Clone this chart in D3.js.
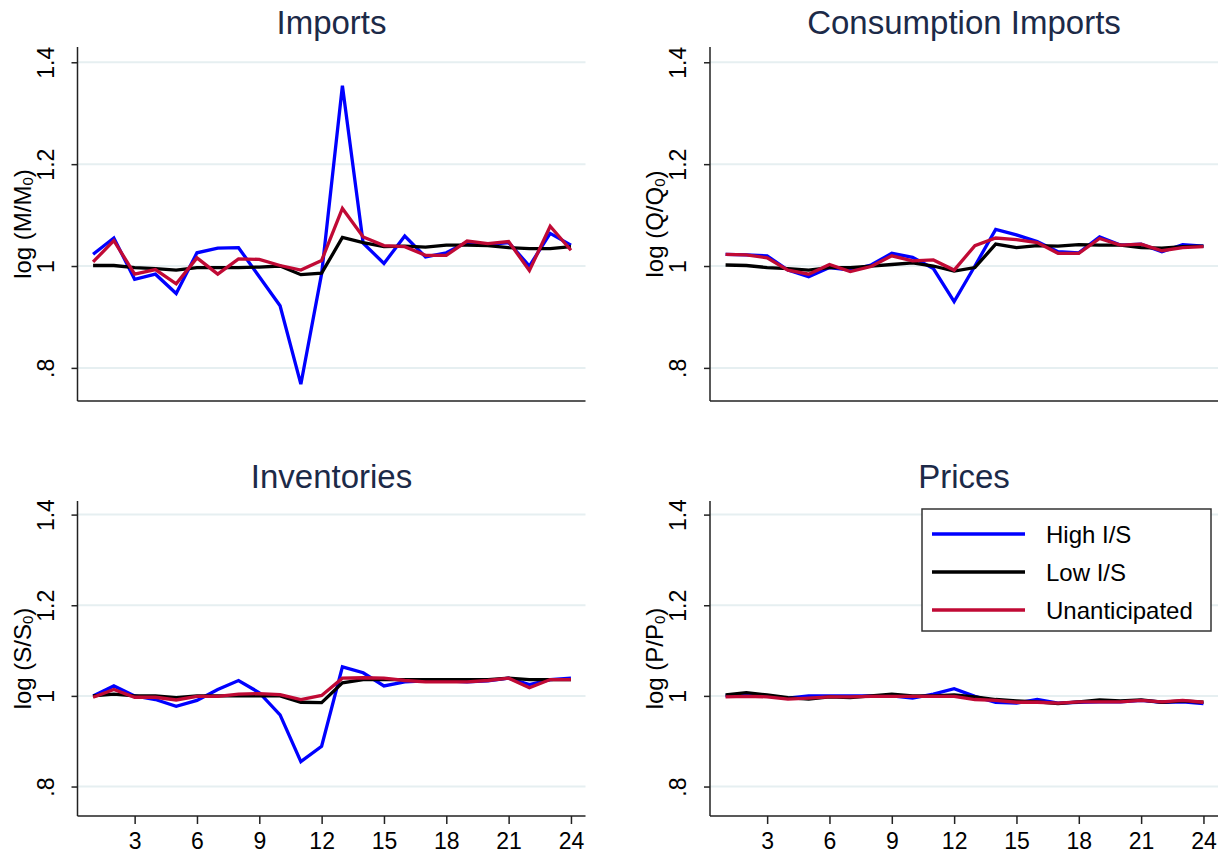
<!DOCTYPE html>
<html>
<head>
<meta charset="utf-8">
<script src="https://cdn.jsdelivr.net/npm/d3@7"></script>
<style>
  body { margin: 0; background: #fff; }
  svg { display: block; font-family: "Liberation Sans", Arial, sans-serif; }
</style>
</head>
<body>
<svg width="1228" height="856"></svg>
<script>
const periods = [1, 2, 3, 4, 5, 6, 7, 8, 9, 10, 11, 12, 13, 14, 15, 16, 17, 18, 19, 20, 21, 22, 23, 24];
const xTickValues = [3, 6, 9, 12, 15, 18, 21, 24];
const yTickValues = [0.8, 1, 1.2, 1.4];
const yTickLabels = [".8", "1", "1.2", "1.4"];

const seriesNames = ["High I/S", "Low I/S", "Unanticipated"];
const seriesColors = ["#0000ff", "#000000", "#c00a35"];

const panelTitles = ["Imports", "Consumption Imports", "Inventories", "Prices"];
const panelLetters = ["M", "Q", "S", "P"];

const importsHigh  = [1.023, 1.055, 0.974, 0.984, 0.946, 1.026, 1.035, 1.036, 0.979, 0.922, 0.768, 0.985, 1.354, 1.045, 1.005, 1.059, 1.018, 1.026, 1.047, 1.042, 1.046, 1.000, 1.064, 1.041];
const importsLow   = [1.001, 1.001, 0.997, 0.995, 0.992, 0.997, 0.997, 0.997, 0.998, 1.000, 0.983, 0.986, 1.056, 1.046, 1.038, 1.039, 1.037, 1.041, 1.041, 1.040, 1.036, 1.034, 1.034, 1.038];
const importsUnant = [1.008, 1.050, 0.984, 0.993, 0.965, 1.016, 0.984, 1.014, 1.013, 1.001, 0.992, 1.011, 1.113, 1.057, 1.040, 1.038, 1.021, 1.021, 1.049, 1.044, 1.048, 0.991, 1.078, 1.031];

const consHigh  = [1.023, 1.022, 1.020, 0.992, 0.979, 0.997, 0.992, 1.002, 1.025, 1.017, 0.995, 0.930, 1.000, 1.072, 1.061, 1.048, 1.028, 1.026, 1.057, 1.041, 1.043, 1.028, 1.042, 1.039];
const consLow   = [1.002, 1.001, 0.997, 0.995, 0.992, 0.997, 0.997, 1.000, 1.003, 1.006, 1.000, 0.990, 0.997, 1.043, 1.036, 1.040, 1.039, 1.042, 1.041, 1.041, 1.036, 1.035, 1.038, 1.039];
const consUnant = [1.023, 1.022, 1.016, 0.992, 0.984, 1.003, 0.989, 0.999, 1.020, 1.010, 1.012, 0.992, 1.040, 1.055, 1.052, 1.046, 1.025, 1.025, 1.054, 1.041, 1.043, 1.030, 1.036, 1.038];

const invHigh  = [1.000, 1.022, 1.000, 0.992, 0.977, 0.990, 1.014, 1.034, 1.007, 0.958, 0.855, 0.889, 1.064, 1.051, 1.022, 1.031, 1.033, 1.033, 1.031, 1.033, 1.039, 1.025, 1.036, 1.039];
const invLow   = [1.000, 1.004, 1.000, 1.000, 0.996, 1.000, 1.000, 1.000, 1.000, 1.000, 0.986, 0.985, 1.029, 1.036, 1.036, 1.036, 1.036, 1.036, 1.036, 1.036, 1.039, 1.036, 1.036, 1.036];
const invUnant = [0.997, 1.014, 0.997, 0.997, 0.991, 0.999, 0.999, 1.004, 1.005, 1.003, 0.992, 1.001, 1.039, 1.040, 1.039, 1.034, 1.031, 1.031, 1.031, 1.034, 1.039, 1.018, 1.036, 1.036];

const priceHigh  = [1.000, 1.002, 1.000, 0.995, 1.000, 1.000, 1.000, 1.000, 1.000, 0.995, 1.004, 1.016, 0.999, 0.986, 0.984, 0.992, 0.984, 0.986, 0.987, 0.987, 0.990, 0.986, 0.987, 0.983];
const priceLow   = [1.002, 1.007, 1.002, 0.996, 0.993, 0.998, 0.996, 1.000, 1.004, 1.000, 1.000, 1.002, 0.998, 0.992, 0.989, 0.987, 0.983, 0.987, 0.991, 0.989, 0.991, 0.986, 0.989, 0.986];
const priceUnant = [0.998, 0.999, 0.998, 0.993, 0.995, 0.998, 0.998, 0.999, 0.999, 0.999, 0.999, 0.999, 0.992, 0.990, 0.986, 0.986, 0.984, 0.987, 0.987, 0.987, 0.990, 0.987, 0.990, 0.986];

const panelSeries = [
  [importsHigh, importsLow, importsUnant],
  [consHigh, consLow, consUnant],
  [invHigh, invLow, invUnant],
  [priceHigh, priceLow, priceUnant]
];

var svg = d3.select("svg");

const plotW = 508,
      colX = [77.5, 710],
      rowY = [47, 501],
      rowH = [354, 315];

var x = d3.scaleLinear().domain([0.25, 24.7]).range([0, plotW]);

var line = d3.line()
             .x((d, i) => x(periods[i]))
             .y(d => d);

panelTitles.forEach((title, p) => {
  var col = p % 2, row = Math.floor(p / 2),
      h = rowH[row];

  var y = d3.scaleLinear().domain([0.735, 1.43]).range([h, 0]);

  var g = svg.append("g")
             .attr("transform", `translate(${colX[col]},${rowY[row]})`);

  g.selectAll("line.grid")
   .data(yTickValues)
   .enter().append("line")
   .attr("class", "grid")
   .attr("x1", 0).attr("x2", plotW)
   .attr("y1", d => y(d)).attr("y2", d => y(d))
   .attr("stroke", "#e6eff1")
   .attr("stroke-width", 2);

  var yAxis = g.append("g")
               .call(d3.axisLeft(y).tickValues(yTickValues)
                       .tickFormat((d, i) => yTickLabels[i])
                       .tickSize(6).tickPadding(0));
  yAxis.select(".domain").attr("stroke", "#222").attr("stroke-width", 1.5).attr("d", `M0,0V${h}`);
  yAxis.selectAll(".tick line").attr("stroke", "#222").attr("stroke-width", 1.5);
  yAxis.selectAll(".tick text")
       .attr("x", 0).attr("dy", null)
       .attr("transform", "translate(-32,0) rotate(-90)")
       .attr("text-anchor", "middle")
       .attr("dominant-baseline", "central")
       .attr("font-size", 23)
       .attr("font-family", "Liberation Sans, Arial, sans-serif")
       .attr("fill", "#000");

  var xAxis = g.append("g").attr("transform", `translate(0,${h})`);
  if (row === 1) {
    xAxis.call(d3.axisBottom(x).tickValues(xTickValues).tickSize(8).tickPadding(9));
    xAxis.selectAll(".tick text")
         .attr("font-size", 23)
         .attr("font-family", "Liberation Sans, Arial, sans-serif")
         .attr("fill", "#000");
    xAxis.selectAll(".tick line").attr("stroke", "#222").attr("stroke-width", 1.5);
  } else {
    xAxis.call(d3.axisBottom(x).tickValues([]).tickSizeOuter(0));
  }
  xAxis.select(".domain").attr("stroke", "#222").attr("stroke-width", 1.5).attr("d", `M0,0H${plotW}`);

  g.selectAll("path.series")
   .data(panelSeries[p])
   .enter().append("path")
   .attr("class", "series")
   .attr("d", s => line(s.map(v => y(v))))
   .attr("fill", "none")
   .attr("stroke", (s, i) => seriesColors[i])
   .attr("stroke-width", 3.3)
   .attr("stroke-linejoin", "miter");

  g.append("text")
   .attr("x", plotW / 2)
   .attr("y", -13)
   .attr("text-anchor", "middle")
   .attr("font-size", 33)
   .attr("fill", "#1c2a48")
   .text(title);

  var yl = g.append("text")
            .attr("transform", `translate(-56,${h / 2}) rotate(-90)`)
            .attr("text-anchor", "middle")
            .attr("dominant-baseline", "central")
            .attr("font-size", 24)
            .attr("fill", "#000");
  yl.append("tspan").text(`log (${panelLetters[p]}/${panelLetters[p]}`);
  yl.append("tspan").attr("font-size", 15).attr("dy", 5).text("0");
  yl.append("tspan").attr("dy", -5).text(")");

  if (p === 3) {
    var lg = g.append("g").attr("transform", "translate(212,8)");
    lg.append("rect")
      .attr("width", 289).attr("height", 122)
      .attr("fill", "#fff")
      .attr("stroke", "#333")
      .attr("stroke-width", 1.5);
    var item = lg.selectAll("g.item")
                 .data(seriesNames)
                 .enter().append("g")
                 .attr("class", "item")
                 .attr("transform", (d, i) => `translate(0,${25 + i * 38})`);
    item.append("line")
        .attr("x1", 10).attr("x2", 103)
        .attr("stroke", (d, i) => seriesColors[i])
        .attr("stroke-width", 3.3);
    item.append("text")
        .attr("x", 124)
        .attr("dominant-baseline", "central")
        .attr("font-size", 24)
        .attr("fill", "#000")
        .text(d => d);
  }
});
</script>
</body>
</html>
